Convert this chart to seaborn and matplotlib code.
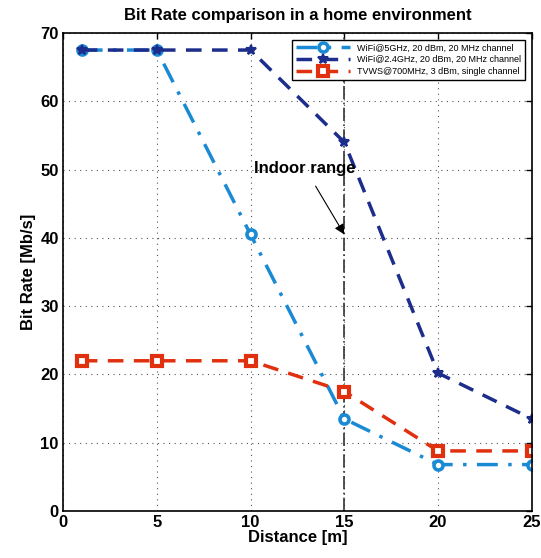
import matplotlib
matplotlib.use("Agg")
import matplotlib.pyplot as plt
import seaborn as sns
import pandas as pd

distance = [1, 5, 10, 15, 20, 25]
wifi5 = [67.5, 67.5, 40.5, 13.5, 6.8, 6.8]
wifi24 = [67.5, 67.5, 67.5, 54.0, 20.2, 13.5]
tvws = [22.0, 22.0, 22.0, 17.5, 8.8, 8.8]
labels = ["WiFi@5GHz, 20 dBm, 20 MHz channel",
          "WiFi@2.4GHz, 20 dBm, 20 MHz channel",
          "TVWS@700MHz, 3 dBm, single channel"]
xticks = [0, 5, 10, 15, 20, 25]
yticks = [0, 10, 20, 30, 40, 50, 60, 70]

sns.set_style("white")
plt.rcParams['font.family'] = ['Liberation Sans', 'DejaVu Sans']
plt.rcParams['font.weight'] = 'bold'
plt.rcParams['text.color'] = 'black'
plt.rcParams['axes.labelcolor'] = 'black'
plt.rcParams['xtick.color'] = 'black'
plt.rcParams['ytick.color'] = 'black'

fig = plt.figure(figsize=(5.41, 5.58), dpi=100)
ax = fig.add_axes([0.1165, 0.0842, 0.8665, 0.8567])

c5 = "#1a8ad4"
c24 = "#1c2d8c"
cr = "#e0300e"

df = pd.DataFrame({"d": distance, "w5": wifi5, "w24": wifi24, "tv": tvws})

sns.lineplot(data=df, x="d", y="w5", ax=ax, color=c5, lw=2.5,
             linestyle=(0, (6, 3, 1, 3)), marker="o", markersize=6.5,
             markerfacecolor="white", markeredgecolor=c5, markeredgewidth=2.6,
             label=labels[0], legend=False)
sns.lineplot(data=df, x="d", y="w24", ax=ax, color=c24, lw=2.5,
             linestyle=(0, (4.5, 3)), marker="*", markersize=7,
             markerfacecolor=c24, markeredgecolor=c24, markeredgewidth=1.5,
             label=labels[1], legend=False)
sns.lineplot(data=df, x="d", y="tv", ax=ax, color=cr, lw=2.5,
             linestyle=(0, (4.5, 3)), marker="s", markersize=7,
             markerfacecolor="white", markeredgecolor=cr, markeredgewidth=3,
             label=labels[2], legend=False)

ax.axvline(15, color="#333333", lw=1.2, linestyle=(0, (8, 2, 1, 2)), zorder=1)

ax.annotate("Indoor range", xy=(15, 40.5), xytext=(12.9, 50.2),
            fontsize=12, fontweight="bold", ha="center", va="center",
            arrowprops=dict(arrowstyle="-|>", color="black", lw=0.8,
                            mutation_scale=15, shrinkA=6, shrinkB=0))

ax.set_xlim(0, 25)
ax.set_ylim(0, 70)
ax.set_xticks(xticks)
ax.set_yticks(yticks)
ax.tick_params(labelsize=12, direction="in", length=4, width=1, top=True, right=True, pad=3)
for lab in ax.get_xticklabels() + ax.get_yticklabels():
    lab.set_fontweight("bold")
ax.grid(True, linestyle=(0, (1, 4)), color="#555555", lw=0.8)
for s in ax.spines.values():
    s.set_color("black")
    s.set_linewidth(1.2)

ax.set_xlabel("Distance [m]", fontsize=12, fontweight="bold", labelpad=0)
ax.set_ylabel("Bit Rate [Mb/s]", fontsize=12, fontweight="bold", labelpad=3)
ax.set_title("Bit Rate comparison in a home environment", fontsize=12,
             fontweight="bold", pad=9)

handles = list(ax.lines[:3])
leg = ax.legend(handles, labels, loc="upper right", fontsize=6.5, frameon=True,
                fancybox=False, edgecolor="black", framealpha=1, handlelength=6,
                borderpad=0.4, labelspacing=0.3, bbox_to_anchor=(0.995, 0.995))
leg.get_frame().set_linewidth(1.0)
for t in leg.get_texts():
    t.set_fontweight("normal")

fig.savefig("out.png", dpi=100)
